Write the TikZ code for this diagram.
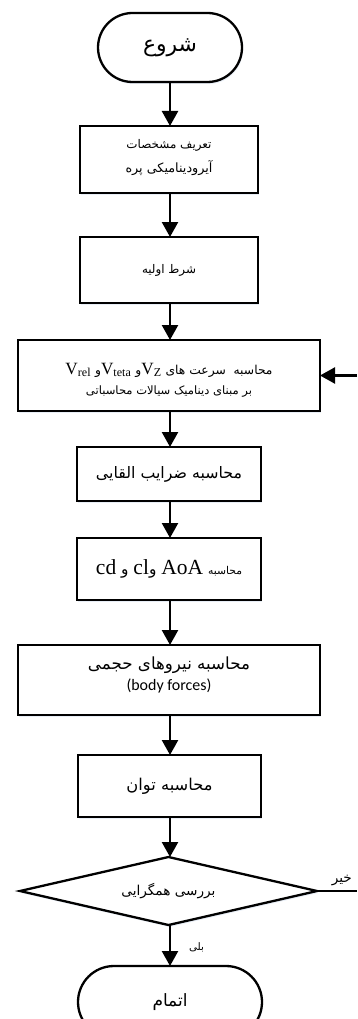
\documentclass[tikz,border=0pt]{standalone}
\usepackage{fontspec}
\usepackage{graphicx}
\setmainfont{Liberation Serif}
\newfontfamily\fa[Script=Arabic]{DejaVu Sans}
\newfontfamily\calfont{Carlito}
\TeXXeTstate=1
\usetikzlibrary{arrows.meta,shapes.geometric,shadows}
\definecolor{glow}{RGB}{205,218,236}
\newcommand\fitw[2]{\resizebox{#1pt}{!}{#2}}
\newcommand\rtl[1]{{\fa\beginR #1\endR}}
\newcommand\lat[1]{{\rmfamily\fontsize{14}{14}\selectfont #1}}
\begin{document}
\begin{tikzpicture}[x=1pt,y=-1pt,
  every node/.style={inner sep=0pt,outer sep=0pt},
  shade/.style={drop shadow={shadow xshift=1pt,shadow yshift=-2pt,fill=glow,opacity=0.45}},
  box/.style={draw,line width=2.3pt,rectangle,align=center,fill=white,shade},
  term/.style={draw,line width=2.3pt,rectangle,align=center,fill=white,shade},
  dia/.style={draw,line width=2.3pt,diamond,aspect=4.37,align=center,fill=white,shade},
  txt/.style={align=center},
  flow/.style={line width=2.3pt,-{Triangle[width=16pt,length=15pt]}},
  plain/.style={line width=2.3pt}]
\clip (0,0) rectangle (357,1019);
\useasboundingbox (0,0) rectangle (357,1019);

\node[term,minimum width=144pt,minimum height=69pt,rounded corners=34.5pt] (start) at (170,47.5) {\fitw{54}{\rtl{شروع}}};

\node[box,minimum width=178pt,minimum height=67pt] (b1) at (169,159.5) {};
\node[txt] (b1t) at (169,157.5)
  {\fitw{85}{\rtl{تعریف مشخصات}}\\[9pt]\fitw{87}{\rtl{آیرودینامیکی پره}}};

\node[box,minimum width=178pt,minimum height=66pt] (b2) at (169,270) {\fitw{54}{\rtl{شرط اولیه}}};

\node[box,minimum width=302pt,minimum height=71pt] (b3) at (169,375.5) {};
\node[txt] (b3t) at (169,380)
  {\fitw{207}{\fa\beginR محاسبه\ \ سرعت های \beginL\lat{V\textsubscript{Z}}\endL{}و \beginL\lat{V\textsubscript{teta}}\endL{}و \beginL\lat{V\textsubscript{rel}}\endL\endR}\\[8pt]
   \fitw{166}{\rtl{بر مبنای دینامیک سیالات محاسباتی}}};

\node[box,minimum width=184pt,minimum height=54pt] (b4) at (169,474) {\fitw{146}{\rtl{محاسبه ضرایب القایی}}};

\node[box,minimum width=184pt,minimum height=62pt] (b5) at (169,569)
  {\fitw{146}{\fa\beginR{\fontsize{7}{8}\selectfont محاسبه} \beginL\lat{AoA}\endL{} و\beginL\lat{cl}\endL{} و \beginL\lat{cd}\endL\endR}};

\node[box,minimum width=302pt,minimum height=70pt] (b6) at (169,680) {};
\node[txt] (b6t) at (169,675)
  {\fitw{162}{\rtl{محاسبه نیروهای حجمی}}\\[4pt]\fitw{85}{\calfont (body forces)}};

\node[box,minimum width=183pt,minimum height=62pt] (b7) at (169.5,786) {\fitw{86}{\rtl{محاسبه توان}}};
\node[dia,minimum width=297pt,minimum height=68pt] (d) at (168.5,891) {\fitw{94}{\rtl{بررسی همگرایی}}};
\node[term,minimum width=184pt,minimum height=72pt,rounded corners=36pt] (end) at (170,1002) {\fitw{35}{\rtl{اتمام}}};

\coordinate (rin) at (357,375.5);
\coordinate (rout) at (357,891);

\draw[flow] (start.south -| 170,0) -- (b1.north -| 170,0);
\draw[flow] (b1.south -| 170,0) -- (b2.north -| 170,0);
\draw[flow] (b2.south -| 170,0) -- (b3.north -| 170,0);
\draw[flow] (b3.south -| 170,0) -- (b4.north -| 170,0);
\draw[flow] (b4.south -| 170,0) -- (b5.north -| 170,0);
\draw[flow] (b5.south -| 170,0) -- (b6.north -| 170,0);
\draw[flow] (b6.south -| 170,0) -- (b7.north -| 170,0);
\draw[flow] (b7.south -| 170,0) -- (d.north -| 170,0);
\draw[flow] (d.south -| 170,0) -- (end.north -| 170,0)
  node[pos=0.54,right=19pt] {\fitw{15}{\rtl{بلی}}};
\draw[flow] (rin) -- (b3.east);
\draw[plain] (d.east) -- (rout)
  node[pos=0.62,above=5pt] {\fitw{20}{\rtl{خیر}}};
\end{tikzpicture}
\end{document}
